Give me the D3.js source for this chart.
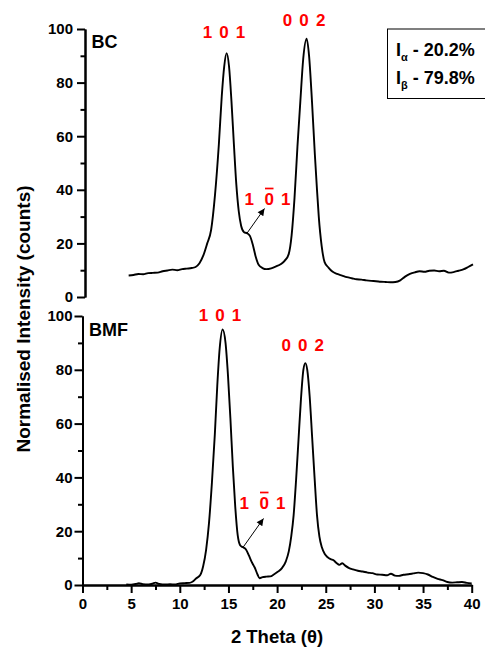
<!DOCTYPE html>
<html>
<head>
<meta charset="utf-8">
<script src="https://cdn.jsdelivr.net/npm/d3@7/dist/d3.min.js"></script>
<style>
  html, body { margin: 0; padding: 0; background: #fff; }
  svg { display: block; }
  text { font-family: "Liberation Sans", Arial, sans-serif; font-weight: bold; }
</style>
</head>
<body>
<svg id="chart" width="485" height="647"></svg>
<script>
// Diffraction angle 2θ (degrees) and normalised intensity for the BC sample
const bcTheta = [4.5,5.0,5.5,6.0,6.5,7.0,7.5,8.0,8.5,9.0,9.5,10.0,10.5,11.0,11.4,11.8,12.2,12.6,13.0,13.4,13.8,14.1,14.35,14.6,14.85,15.1,15.35,15.6,15.85,16.1,16.4,16.7,17.0,17.3,17.6,17.9,18.3,18.7,19.2,19.7,20.2,20.6,21.0,21.3,21.6,21.9,22.2,22.5,22.85,23.1,23.4,23.7,23.9,24.1,24.4,24.7,25.1,25.5,26.0,26.5,27.0,27.5,28.0,28.5,29.0,29.5,30.0,30.5,31.0,31.5,32.0,32.5,33.0,33.5,34.0,34.5,35.0,35.5,36.0,36.5,37.0,37.5,38.0,38.5,39.0,39.5,40.0];
const bcIntensity = [8.0,8.2,8.6,8.5,8.9,9.0,9.1,9.6,9.9,10.2,10.0,10.4,10.6,10.8,11.2,12.6,15.5,20.0,25.0,38.0,57.0,75.0,86.0,91.0,86.0,73.0,57.0,42.0,32.0,26.5,24.2,23.8,22.8,19.5,15.0,12.0,10.8,10.4,10.7,11.4,12.3,13.6,16.0,23.0,37.0,56.0,73.0,89.0,96.4,90.0,73.0,53.0,41.0,30.0,19.0,13.0,11.0,9.5,8.6,8.0,7.4,7.0,6.6,6.5,6.2,6.0,5.9,5.7,5.6,5.5,5.6,6.2,7.6,8.6,9.2,9.6,9.4,9.8,9.9,9.6,9.8,9.1,9.3,9.8,10.3,11.2,12.2];

// Diffraction angle 2θ (degrees) and normalised intensity for the BMF sample
const bmfTheta = [4.5,5.0,5.5,5.8,6.2,6.8,7.2,7.5,7.9,8.5,9.0,9.5,10.0,10.5,11.0,11.3,11.7,12.1,12.4,12.7,13.0,13.3,13.6,13.85,14.1,14.4,14.7,14.95,15.2,15.45,15.7,15.95,16.2,16.5,16.8,17.1,17.4,17.7,18.0,18.2,18.5,18.9,19.3,19.7,20.1,20.5,20.9,21.2,21.45,21.7,21.95,22.2,22.45,22.7,22.9,23.1,23.35,23.6,23.85,24.1,24.35,24.6,24.9,25.2,25.5,25.8,26.1,26.4,26.7,27.0,27.4,27.8,28.3,28.8,29.3,29.8,30.3,30.8,31.3,31.7,32.1,32.5,33.0,33.5,34.0,34.5,35.0,35.5,36.0,36.5,37.0,37.5,38.0,38.5,39.0,39.5,40.0];
const bmfIntensity = [0.2,0.1,0.4,0.7,0.3,0.2,0.5,0.9,0.4,0.2,0.3,0.2,0.6,0.7,0.8,1.2,2.5,3.7,7.0,13.0,23.0,38.0,56.0,74.0,88.0,95.0,90.0,78.0,62.0,44.0,29.0,18.5,14.8,14.0,13.2,11.0,8.5,6.5,3.8,2.5,2.9,3.1,3.2,4.0,5.0,6.3,8.8,12.5,18.0,26.0,39.0,54.0,69.0,80.0,82.5,80.0,70.0,55.0,40.0,26.0,18.0,14.0,11.5,10.3,9.6,9.2,8.2,7.5,8.1,7.2,6.3,5.8,5.3,5.0,4.6,4.4,3.9,3.8,3.6,4.2,3.5,3.4,3.8,4.0,4.3,4.6,4.4,3.9,3.0,2.3,1.8,1.1,0.9,1.0,1.1,0.8,0.6];

// Axis ticks
const yMajorTicks = [0, 20, 40, 60, 80, 100];
const yMinorTicks = [10, 30, 50, 70, 90];
const xMajorTicks = [0, 5, 10, 15, 20, 25, 30, 35, 40];
const xMinorTicks = [2.5, 7.5, 12.5, 17.5, 22.5, 27.5, 32.5, 37.5];

// Text
const sampleNames = ["BC", "BMF"];
const peakLabels = ["1 0 1", "0 0 2"];
// Peak positions (2θ, intensity) that the Miller-index labels sit above
const bcPeaks = [[14.6, 91.0], [22.85, 96.4]];
const bmfPeaks = [[14.4, 95.0], [22.9, 82.5]];
// Shoulder position of the (1 0̄ 1) reflection
const bcShoulder = [16.7, 23.8];
const bmfShoulder = [16.5, 14.0];
const fractionLabels = [["α", " - 20.2%"], ["β", " - 79.8%"]];
const yTitle = "Normalised Intensity (counts)";
const xTitle = "2 Theta (θ)";

const svg = d3.select("#chart");
const red = "#ff0000";

svg.append("defs").append("marker")
  .attr("id", "arrow")
  .attr("markerUnits", "userSpaceOnUse")
  .attr("viewBox", "0 0 10 10")
  .attr("refX", 10).attr("refY", 5)
  .attr("markerWidth", 8).attr("markerHeight", 7)
  .attr("orient", "auto")
  .append("path").attr("d", "M0,0 L10,5 L0,10 Z").attr("fill", "#000");

const panels = [
  { theta: bcTheta, inten: bcIntensity, name: sampleNames[0], peaks: bcPeaks, shoulder: bcShoulder,
    xr: [85, 473], yr: [297, 29], pad: 4, xAxis: false,
    nameX: 91.5, nameY: 48, peakDy: [-15, -12.5], minusLabel: [244.5, 204.5], arrowTip: [264.5, 208.5] },
  { theta: bmfTheta, inten: bmfIntensity, name: sampleNames[1], peaks: bmfPeaks, shoulder: bmfShoulder,
    xr: [82.5, 471.7], yr: [585, 316], pad: 2, xAxis: true,
    nameX: 89, nameY: 336, peakDy: [-8.5, -12.5], minusLabel: [239.5, 508.5], arrowTip: [263.5, 518.5] }
];

panels.forEach(p => {
  const x = d3.scaleLinear().domain([0, 40]).range(p.xr);
  const y = d3.scaleLinear().domain([0, 100]).range(p.yr);
  const g = svg.append("g");

  // y axis: major ticks with labels, minor ticks between
  g.append("g").attr("transform", `translate(${p.xr[0]},0)`)
    .call(d3.axisLeft(y).tickValues(yMajorTicks).tickSize(8).tickSizeOuter(0).tickPadding(p.pad));
  g.append("g").attr("transform", `translate(${p.xr[0]},0)`)
    .call(d3.axisLeft(y).tickValues(yMinorTicks).tickSize(4.5).tickSizeOuter(0).tickFormat(""));

  if (p.xAxis) {
    g.append("g").attr("transform", `translate(0,${p.yr[0]})`)
      .call(d3.axisBottom(x).tickValues(xMajorTicks).tickSize(8).tickSizeOuter(0).tickPadding(5));
    g.append("g").attr("transform", `translate(0,${p.yr[0]})`)
      .call(d3.axisBottom(x).tickValues(xMinorTicks).tickSize(5).tickSizeOuter(0).tickFormat(""));
  }

  g.selectAll(".domain, .tick line").attr("stroke", "#000").attr("stroke-width", 2);
  g.selectAll(".tick text").attr("font-size", 15).attr("fill", "#000")
    .style("font-family", "'Liberation Sans', Arial, sans-serif").style("font-weight", "bold");

  // diffraction pattern
  const pts = p.theta.map((t, i) => [t, p.inten[i]]);
  g.append("path").datum(pts)
    .attr("fill", "none").attr("stroke", "#000").attr("stroke-width", 1.9)
    .attr("stroke-linejoin", "round")
    .attr("d", d3.line().x(d => x(d[0])).y(d => y(d[1])).curve(d3.curveMonotoneX));

  // sample name
  g.append("text").attr("x", p.nameX).attr("y", p.nameY)
    .attr("font-size", 18).attr("fill", "#000").text(p.name);

  // Miller indices above the two main peaks
  p.peaks.forEach((pk, i) => {
    g.append("text").attr("x", x(pk[0]) - 2).attr("y", y(pk[1]) + p.peakDy[i])
      .attr("text-anchor", "middle").attr("font-size", 17).attr("letter-spacing", 1.2)
      .attr("fill", red).text(peakLabels[i]);
  });

  // (1 0̄ 1) label with overbar on the middle index
  const [lx, ly] = p.minusLabel;
  const idx = ["1", "0", "1"];
  const offs = [0, 20, 36.5];
  idx.forEach((c, i) => {
    g.append("text").attr("x", lx + offs[i]).attr("y", ly)
      .attr("font-size", 17).attr("fill", red).text(c);
  });
  g.append("line")
    .attr("x1", lx + offs[1] + 0.5).attr("x2", lx + offs[1] + 9)
    .attr("y1", ly - 16).attr("y2", ly - 16)
    .attr("stroke", red).attr("stroke-width", 1.7);

  // arrow pointing from the shoulder to its label
  g.append("line")
    .attr("x1", x(p.shoulder[0])).attr("y1", y(p.shoulder[1]))
    .attr("x2", p.arrowTip[0]).attr("y2", p.arrowTip[1])
    .attr("stroke", "#000").attr("stroke-width", 1)
    .attr("marker-end", "url(#arrow)");
});

// crystalline allomorph fractions
const box = svg.append("g");
box.append("rect").attr("x", 387.5).attr("y", 29).attr("width", 110).attr("height", 69.5)
  .attr("fill", "#fff").attr("stroke", "#000").attr("stroke-width", 1);
fractionLabels.forEach((f, i) => {
  const t = box.append("text").attr("x", 396).attr("y", 55.5 + i * 28)
    .attr("font-size", 18).attr("fill", "#000");
  t.append("tspan").text("I");
  t.append("tspan").attr("font-size", 11).attr("dy", 5).text(f[0]);
  t.append("tspan").attr("dy", -5).text(f[1]);
});

// axis titles
svg.append("text")
  .attr("transform", "translate(29.5,319) rotate(-90)")
  .attr("text-anchor", "middle").attr("font-size", 19).attr("fill", "#000")
  .text(yTitle);
svg.append("text").attr("x", 277).attr("y", 643)
  .attr("text-anchor", "middle").attr("font-size", 18.5).attr("fill", "#000")
  .text(xTitle);
</script>
</body>
</html>
